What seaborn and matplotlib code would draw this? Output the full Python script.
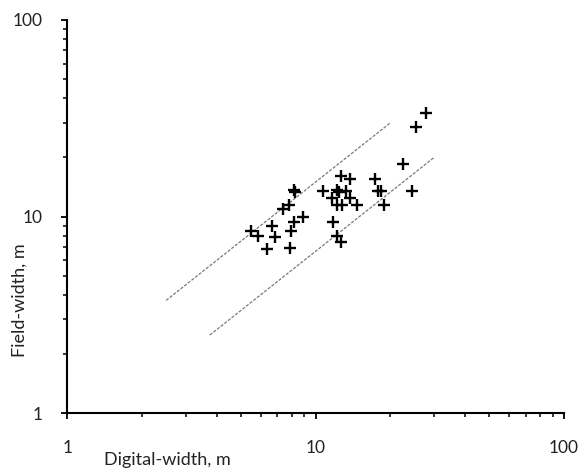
import numpy as np
import pandas as pd
import matplotlib
matplotlib.use("Agg")
import matplotlib.pyplot as plt
import matplotlib.ticker as mticker
import seaborn as sns

# data
digital_width = [27.9, 25.3, 22.5, 24.4, 17.4, 17.8, 18.3, 18.9,
                 12.7, 13.7, 10.7, 12.2, 12.4, 11.6, 13.3, 13.7,
                 12.2, 12.8, 14.7, 11.7, 12.2, 12.7,
                 8.2, 8.25, 7.84, 7.36, 8.15, 8.88, 7.97, 7.88,
                 6.68, 6.84, 6.35, 5.48, 5.85]
field_width = [33.8, 28.6, 18.5, 13.5, 15.5, 13.5, 13.5, 11.4,
               16.1, 15.5, 13.5, 13.6, 13.4, 12.4, 13.5, 12.4,
               11.4, 11.4, 11.4, 9.41, 7.97, 7.44,
               13.7, 13.3, 11.5, 10.9, 9.44, 9.92, 8.43, 6.91,
               8.96, 7.92, 6.88, 8.47, 7.97]

# envelope lines (field = 1.5 * digital and digital / 1.5)
upper_x = [2.5, 20]
upper_y = [3.75, 30]
lower_x = [3.75, 30]
lower_y = [2.5, 20]

axis_ticks = [1, 10, 100]

df = pd.DataFrame({"Digital": digital_width, "Field": field_width})

sns.set_theme(style="ticks")
plt.rcParams["font.family"] = ["Lato", "DejaVu Sans"]

fig = plt.figure(figsize=(5.81, 4.68), dpi=100)
ax = fig.add_axes([0.1158, 0.1169, 0.8549, 0.8404])

# dashed envelope lines
for lx, ly in [(upper_x, upper_y), (lower_x, lower_y)]:
    sns.lineplot(x=lx, y=ly, ax=ax, color="#7a7a7a", linewidth=0.9,
                 linestyle=(0, (2.5, 1.2)))

sns.scatterplot(data=df, x="Digital", y="Field", ax=ax, marker="+",
                color="black", s=85, linewidth=1.7, zorder=3)

ax.set_xscale("log")
ax.set_yscale("log")
ax.set_xlim(1, 100)
ax.set_ylim(1, 100)
ax.set_xticks(axis_ticks)
ax.set_yticks(axis_ticks)
fmt = mticker.FuncFormatter(lambda v, p: "%g" % v)
ax.xaxis.set_major_formatter(fmt)
ax.yaxis.set_major_formatter(fmt)
ax.xaxis.set_minor_formatter(mticker.NullFormatter())
ax.yaxis.set_minor_formatter(mticker.NullFormatter())

sns.despine(ax=ax)
for side in ["left", "bottom"]:
    ax.spines[side].set_linewidth(1.5)
    ax.spines[side].set_color("black")
ax.spines["bottom"].set_zorder(4)

ax.tick_params(axis="both", which="major", length=4.5, width=1.3,
               color="black", labelsize=12.5, labelcolor="#222222")
ax.tick_params(axis="both", which="minor", length=3, width=1.1, color="black")
ax.tick_params(axis="x", which="major", pad=15)
ax.tick_params(axis="y", which="major", pad=13)

ax.set_xlabel("Digital-width, m", fontsize=13, color="#222222")
ax.set_ylabel("Field-width, m", fontsize=13, color="#222222")
ax.xaxis.set_label_coords(0.201, -0.119)
ax.xaxis.label.set_va("center")
ax.yaxis.set_label_coords(-0.095, 0.288)
ax.yaxis.label.set_va("center")

fig.savefig("out.png", dpi=100)
